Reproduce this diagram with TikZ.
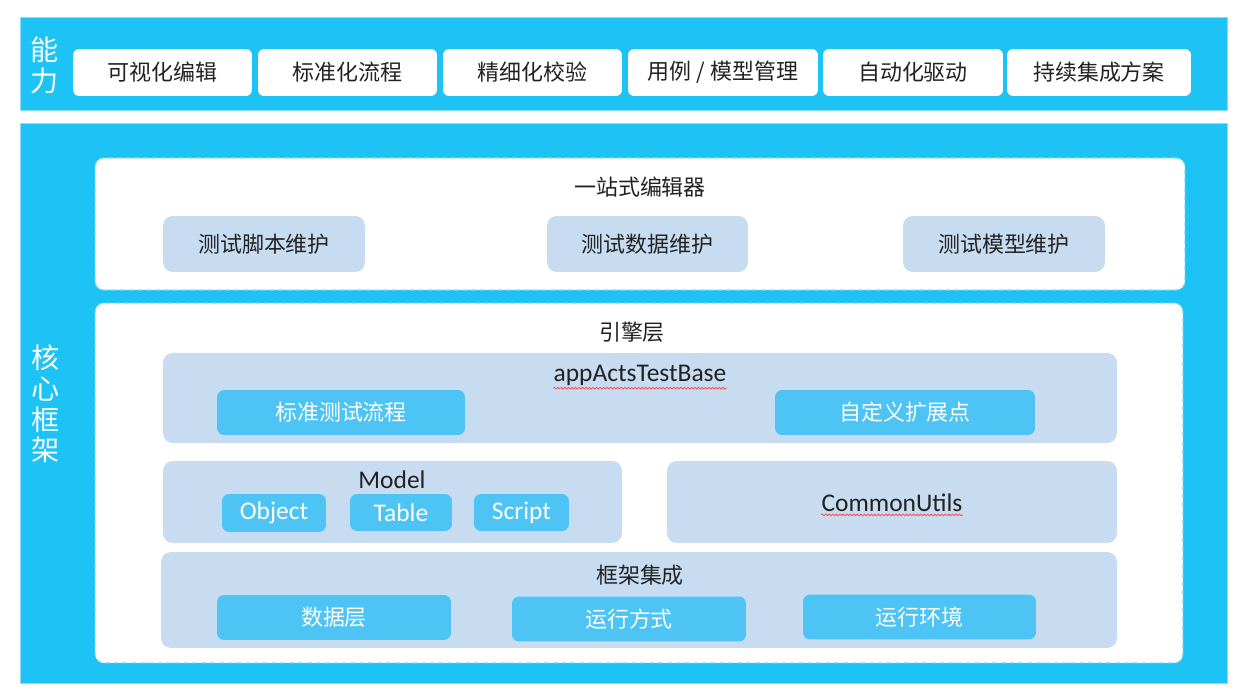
\documentclass[tikz,border=0pt]{standalone}
\usepackage{fontspec}
\setmainfont{Carlito}
\newfontfamily\cjk{Noto Sans CJK SC}
\usetikzlibrary{decorations.pathmorphing}
\definecolor{bandblue}{HTML}{1EC3F5}
\definecolor{bandedge}{HTML}{8ADCF8}
\definecolor{greyblue}{HTML}{C8DCF1}
\definecolor{kidblue}{HTML}{4EC4F5}
\definecolor{inkgrey}{HTML}{222222}
\tikzset{
  capbox/.style={fill=white, rounded corners=3.5pt, inner sep=0pt, text=inkgrey, font=\cjk\fontsize{12.5}{14}\selectfont},
  panel/.style={fill=white, draw=bandedge, densely dashed, line width=0.6pt, rounded corners=5pt, inner sep=0pt},
  greybox/.style={fill=greyblue, rounded corners=5.5pt, inner sep=0pt, text=inkgrey, font=\cjk\fontsize{12.5}{14}\selectfont},
  kidbox/.style={fill=kidblue, rounded corners=4pt, inner sep=0pt, text=white, font=\cjk\fontsize{12.5}{14}\selectfont},
  title/.style={inner sep=0pt, text=inkgrey, font=\cjk\fontsize{12.5}{14}\selectfont},
  latin/.style={font=\fontsize{14.5}{16}\selectfont},
  sidelabel/.style={inner sep=0pt, text=white, align=center, font=\cjk\fontsize{16}{17.5}\selectfont},
  squiggle/.style={draw=red!75, line width=0.4pt, decorate, decoration={snake, amplitude=0.5pt, segment length=2pt}}
}
\begin{document}
\begin{tikzpicture}[x=0.02cm, y=-0.02cm]
			%%%%% START %%%%%
			\useasboundingbox[fill=white] (0, 0) rectangle (1245, 699);
			
			% bands
			\draw[fill=bandblue, draw=bandedge] (20, 17) rectangle (1227, 110);
			\draw[fill=bandblue, draw=bandedge] (20, 123) rectangle (1227, 683);
			\node[sidelabel] (nengli) at (45, 65) {能\\力};
			\node[sidelabel] (hexin) at (46, 404) {核\\心\\框\\架};
			
			% capabilities
			\node[capbox, minimum width=3.58cm, minimum height=0.94cm] (cap1) at (162.5, 72.5) {可视化编辑};
			\node[capbox, minimum width=3.58cm, minimum height=0.94cm] (cap2) at (347.5, 72.5) {标准化流程};
			\node[capbox, minimum width=3.58cm, minimum height=0.94cm] (cap3) at (532.5, 72.5) {精细化校验};
			\node[capbox, minimum width=3.8cm, minimum height=0.94cm] (cap4) at (723, 72.5) {用例 / 模型管理};
			\node[capbox, minimum width=3.6cm, minimum height=0.94cm] (cap5) at (913, 72.5) {自动化驱动};
			\node[capbox, minimum width=3.68cm, minimum height=0.94cm] (cap6) at (1099, 72.5) {持续集成方案};
			
			% editor
			\node[panel, minimum width=21.8cm, minimum height=2.64cm] (editor) at (640, 224) {};
			\node[title] (editortitle) at (640, 187) {一站式编辑器};
			\node[greybox, minimum width=4.04cm, minimum height=1.12cm] (script) at (264, 244) {测试脚本维护};
			\node[greybox, minimum width=4.02cm, minimum height=1.12cm] (data) at (647.5, 244) {测试数据维护};
			\node[greybox, minimum width=4.04cm, minimum height=1.12cm] (model) at (1004, 244) {测试模型维护};
			
			% engine
			\node[panel, minimum width=21.76cm, minimum height=7.2cm] (engine) at (639, 483) {};
			\node[title] (enginetitle) at (632, 332) {引擎层};
			
			\node[greybox, minimum width=19.08cm, minimum height=1.8cm] (base) at (640, 398) {};
			\node[title, latin] (basetitle) at (640, 375) {appActsTestBase};
			\draw[squiggle] ([yshift=-1.5pt]basetitle.south west) -- ([yshift=-1.5pt]basetitle.south east);
			\node[kidbox, minimum width=4.96cm, minimum height=0.9cm] (flow) at (341, 412.5) {标准测试流程};
			\node[kidbox, minimum width=5.2cm, minimum height=0.9cm] (ext) at (905, 412.5) {自定义扩展点};
			
			\node[greybox, minimum width=9.18cm, minimum height=1.64cm] (modelbox) at (392.5, 502) {};
			\node[title, latin] (modeltitle) at (392, 480) {Model};
			\node[kidbox, latin, minimum width=2.08cm, minimum height=0.76cm] (object) at (274, 513) {Object};
			\node[kidbox, latin, minimum width=2.04cm, minimum height=0.74cm] (table) at (401, 512.5) {Table};
			\node[kidbox, latin, minimum width=1.9cm, minimum height=0.74cm] (scr) at (521.5, 512.5) {Script};
			
			\node[greybox, latin, minimum width=9.0cm, minimum height=1.64cm] (utils) at (892, 502) {};
			\node[title, latin] (utilstitle) at (892, 503) {CommonUtils};
			\draw[squiggle] ([yshift=-1.5pt]utilstitle.south west) -- ([yshift=-1.5pt]utilstitle.south east);
			
			\node[greybox, minimum width=19.12cm, minimum height=1.92cm] (frame) at (639, 600) {};
			\node[title] (frametitle) at (640, 575) {框架集成};
			\node[kidbox, minimum width=4.68cm, minimum height=0.9cm] (layer) at (334, 617.5) {数据层};
			\node[kidbox, minimum width=4.68cm, minimum height=0.9cm] (mode) at (629, 619) {运行方式};
			\node[kidbox, minimum width=4.66cm, minimum height=0.9cm] (env) at (919.5, 617) {运行环境};
			%%%%% END %%%%%
		\end{tikzpicture}
\end{document}
